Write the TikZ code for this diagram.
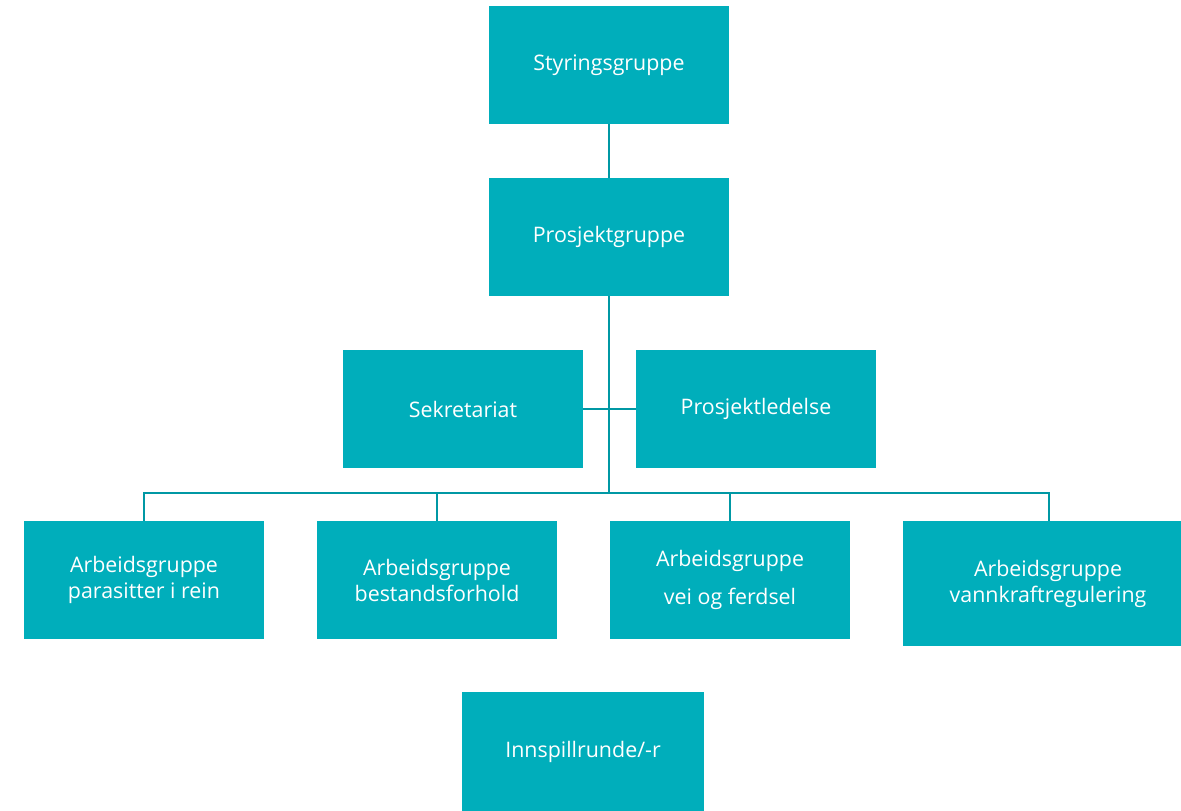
\documentclass[tikz,border=0pt]{standalone}
\usepackage{fontspec}
\setmainfont{Open Sans}
\usepackage{tikz}
\usetikzlibrary{positioning}
\definecolor{boxteal}{RGB}{0,174,187}
\definecolor{lineteal}{RGB}{0,152,164}

\begin{document}
\begin{tikzpicture}[x=1pt,y=-1pt,
  group/.style={fill=boxteal, draw=none, text=white, minimum width=240pt, minimum height=118pt,
    inner sep=0pt, align=center, font=\fontsize{21.4}{26}\selectfont},
  link/.style={draw=lineteal, line width=2pt}]
\useasboundingbox (0,0) rectangle (1181,811);
%draw top boxes
\node[group] (styring) at (609,65) {Styringsgruppe};
\node[group] (prosjekt) at (609,237) {Prosjektgruppe};
%draw staff boxes
\node[group] (sekretariat) at (463,409) {Sekretariat};
\node[group] (ledelse) at (756,409) {Prosjektledelse};
%draw working groups
\node[group] (parasitt) at (144,580) {Arbeidsgruppe\\parasitter i rein};
\node[group] (bestand) at (437,580) {Arbeidsgruppe\\bestandsforhold};
\node[group] (ferdsel) at (730,580) {Arbeidsgruppe\\[12pt]vei og ferdsel};
\node[group, minimum width=278pt, minimum height=125pt] (vannkraft) at (1042,583.5) {\hspace*{12pt}Arbeidsgruppe\\\hspace*{12pt}vannkraftregulering};
% input round
\node[group, minimum width=242pt, minimum height=119pt] (innspill) at (583,751.5) {Innspillrunde/-r};
%draw links
\coordinate (bus) at (609,493);
\draw[link] (styring) -- (prosjekt);
\draw[link] (prosjekt) -- (bus);
\draw[link] (sekretariat.east) -- (ledelse.west);
\draw[link] (parasitt.north) |- (bus) -| (vannkraft.north -| 1049,0);
\draw[link] (bestand.north) -- (bestand.north |- bus);
\draw[link] (ferdsel.north) -- (ferdsel.north |- bus);
\end{tikzpicture}
\end{document}
